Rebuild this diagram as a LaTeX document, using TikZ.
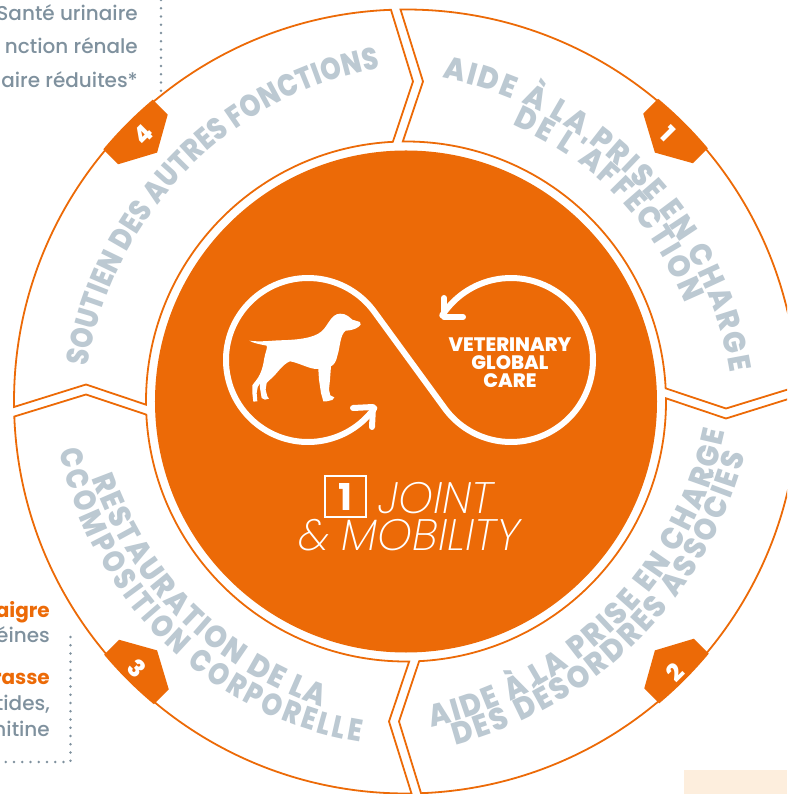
\documentclass[tikz,border=0pt]{standalone}
\usepackage{fontspec}
\usetikzlibrary{calc,decorations.text}
\setmainfont{Poppins Medium}
\newfontfamily\boldface{Poppins Bold}
\newfontfamily\heavyface{Poppins ExtraBold}
\newfontfamily\arcface[FakeStretch=.92]{Poppins ExtraBold}
\newfontfamily\arcnarrow[FakeStretch=.84]{Poppins ExtraBold}
\newfontfamily\lightface{Poppins ExtraLight Italic}
\definecolor{vetorange}{HTML}{EC6A07}
\definecolor{arcgrey}{HTML}{BCC9D2}
\definecolor{notegrey}{HTML}{7F919E}
\definecolor{peach}{HTML}{FDEEDD}
\tikzset{
  segline/.style={draw=vetorange,line width=1.8pt,fill=white},
  loopline/.style={draw=white,line width=6pt,line cap=round,line join=round},
  dotline/.style={draw=notegrey,line width=2.6pt,line cap=round,dash pattern=on 0pt off 8.25pt},
  badgenum/.style={text=white,font=\heavyface\fontsize{24}{24}\selectfont,inner sep=0pt},
  note/.style={anchor=base east,inner sep=0pt,text=notegrey,font=\fontsize{20}{20}\selectfont},
  noteb/.style={note,text=vetorange,font=\boldface\fontsize{20}{20}\selectfont},
  vet/.style={anchor=base,inner sep=0pt,text=white,font=\heavyface\fontsize{19.5}{20}\selectfont},
  big/.style={anchor=base west,inner sep=0pt,text=white,font=\lightface\fontsize{44}{44}\selectfont},
  arclabel/.style={decorate,decoration={text along path,text align={fit to path},
    text={|\arcface\fontsize{31}{31}\selectfont\color{arcgrey}|#1}}},
  arclabeln/.style={decorate,decoration={text along path,text align={fit to path},
    text={|\arcnarrow\fontsize{31}{31}\selectfont\color{arcgrey}|#1}}},
}
\begin{document}
\begin{tikzpicture}[x=1pt,y=1pt]
  \path[use as bounding box,clip] (-406,-392.5) rectangle (381,401.5);
  \fill[peach] (278,-368.5) rectangle (381,-392.5);
  \draw[dotline] (-245,401.5) -- (-245,305.5);
  \draw[dotline] (-335.5,-235.5) -- (-335.5,-360.5) -- (-406,-360.5);
  % ring
  \foreach \a in {0,90,180,270}
    \draw[segline,rotate=\a] (90.8:392) -- (17,320) -- (90.7:260)
      arc[start angle=90.7,end angle=2.9,radius=260] -- (320,-7) -- (2.2:392)
      arc[start angle=2.2,end angle=90.8,radius=392] -- cycle;
  \foreach \a in {0,90,180,270}
    \fill[vetorange,rotate=\a] (50.2:394) arc[start angle=50.2,end angle=40,radius=394]
      -- (39.7:373) -- (45:352) -- (50.5:373) -- cycle;
  \node[badgenum,rotate=-45] (num1) at (262,267.5) {1};
  \node[badgenum,rotate=45] (num2) at (269,-270.5) {2};
  \node[badgenum,rotate=-45] (num3) at (-269,-266.5) {3};
  \node[badgenum,rotate=45] (num4) at (-263,266.5) {4};
  % disc
  \fill[vetorange] (0,0) circle (251);
  % loop
  \coordinate (loopl) at (-98,41.5);
  \coordinate (loopr) at (105,41.5);
  \draw[loopline] ($(loopl)+(-36:82)$) arc[start angle=-36,end angle=-323.9,radius=82]
    -- ($(loopr)+(216.1:82)$) arc[start angle=216.1,end angle=507,radius=82];
  \draw[loopline] (-53,-6.5) -- (-33,-5.5) -- (-34,-25.5);
  \draw[loopline] (38,103.5) -- (38,84.5) -- (57,84.5);
  % dog
  \begin{scope}[shift={(-161,93.5)},x=.3333pt,y=-.3333pt]
    \fill[white] (13,98) .. controls (40,102) and (70,99) .. (100,97)
      .. controls (150,96) and (205,92) .. (230,70)
      .. controls (250,52) and (258,18) .. (285,17)
      .. controls (305,16) and (315,30) .. (322,35) -- (345,42) -- (347,50)
      .. controls (340,60) and (325,67) .. (302,68)
      .. controls (285,80) and (285,120) .. (278,140)
      .. controls (274,160) and (268,170) .. (258,175)
      -- (255,215) -- (252,245) -- (256,262) -- (268,268) -- (262,276) -- (245,280) -- (235,280)
      -- (228,255) -- (222,215) -- (220,183)
      .. controls (195,185) and (165,165) .. (135,160)
      .. controls (110,170) and (95,200) .. (75,215)
      -- (65,225) -- (62,245) -- (67,265) -- (72,272) -- (60,275) -- (50,270) -- (45,240) -- (45,225)
      -- (38,238) -- (35,255) -- (37,280) -- (25,281) -- (22,255) -- (22,232) -- (35,215)
      .. controls (50,195) and (55,170) .. (58,150)
      .. controls (62,130) and (68,120) .. (65,113)
      .. controls (50,110) and (25,106) .. (13,98) -- cycle;
  \end{scope}
  % disc texts
  \node[vet] (vet1) at (104,49.5) {VETERINARY};
  \node[vet] (vet2) at (104,31.5) {GLOBAL};
  \node[vet] (vet3) at (104,13.5) {CARE};
  \node[draw=white,line width=2pt,minimum size=41pt,inner sep=0pt,text=white,
    font=\boldface\fontsize{37}{37}\selectfont] (box) at (-60.5,-95) {1};
  \node[big] (joint) at (-28,-112.5) {JOINT};
  \node[big] (mob) at (-108,-148.5) {\& MOBILITY};
  % arc titles
  \path[arclabel={AIDE À LA PRISE EN CHARGE}] (36,323.5) to[bend left=35,looseness=.93] (324,28.5);
  \path[arclabel={DE L'AFFECTION}] (106,276.5) to[bend left=21.5,looseness=.95] (279,98.5);
  \path[arclabeln={SOUTIEN DES AUTRES FONCTIONS}] (-318,34.5) to[bend left=35.5,looseness=.93] (-26,333.5);
  \path[arclabel={AIDE À LA PRISE EN CHARGE}] (25,-325.5) to[bend right=33,looseness=.93] (319,-30.5);
  \path[arclabel={DES DÉSORDRES ASSOCIÉS}] (49,-343.5) to[bend right=30,looseness=.93] (339,-53.5);
  \path[arclabel={RESTAURATION DE LA}] (-314,-76.5) to[bend right=25.3,looseness=.95] (-84,-305.5);
  \path[arclabeln={CCOMPOSITION CORPORELLE}] (-346,-48.5) to[bend right=35.2,looseness=.93] (-46,-340.5);
  % side notes
  \node[note] (n1) at (-268,380.5) {Santé urinaire};
  \node[note] (n2) at (-268,347.5) {nction rénale};
  \node[note] (n3) at (-268,313.5) {aire réduites*};
  \node[noteb] (n4) at (-356,-215.5) {aigre};
  \node[note] (n5) at (-356,-240.5) {éines};
  \node[noteb] (n6) at (-356,-282.5) {rasse};
  \node[note] (n7) at (-356,-308.5) {tides,};
  \node[note] (n8) at (-356,-334.5) {nitine};
\end{tikzpicture}
\end{document}
